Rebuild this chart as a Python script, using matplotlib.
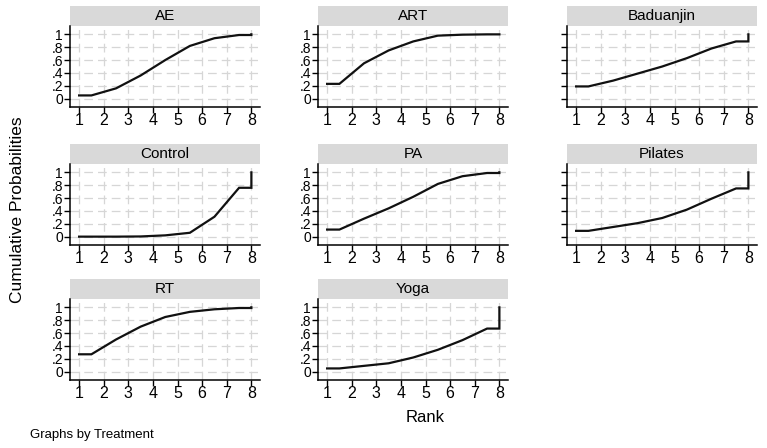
import numpy as np
import matplotlib
matplotlib.use("Agg")
import matplotlib.pyplot as plt
from matplotlib.patches import Rectangle

plt.rcParams['font.family'] = ['Liberation Sans', 'DejaVu Sans']

# cumulative ranking probabilities, rank 1..8
treatments = ["AE", "ART", "Baduanjin", "Control", "PA", "Pilates", "RT", "Yoga"]
ranks = [1, 2, 3, 4, 5, 6, 7, 8]
ae = [0.05, 0.16, 0.36, 0.60, 0.82, 0.94, 0.99, 1.00]
art = [0.23, 0.55, 0.75, 0.89, 0.98, 0.995, 1.00, 1.00]
baduanjin = [0.19, 0.28, 0.39, 0.50, 0.63, 0.78, 0.89, 1.00]
control = [0.0, 0.0, 0.003, 0.02, 0.06, 0.31, 0.76, 1.00]
pa = [0.11, 0.28, 0.44, 0.62, 0.82, 0.94, 0.99, 1.00]
pilates = [0.09, 0.15, 0.21, 0.29, 0.42, 0.59, 0.75, 1.00]
rt = [0.27, 0.50, 0.70, 0.85, 0.93, 0.97, 0.99, 1.00]
yoga = [0.05, 0.09, 0.13, 0.22, 0.34, 0.49, 0.67, 1.00]
series = [ae, art, baduanjin, control, pa, pilates, rt, yoga]

yticks = [0, 0.2, 0.4, 0.6, 0.8, 1]
ylabels = ["0", ".2", ".4", ".6", ".8", "1"]

W, H = 767, 448
fig = plt.figure(figsize=(W / 100, H / 100), dpi=100)

col_left = [70, 318, 567]
row_top = [26, 164, 299]
ax_w, ax_h = 190, 81
strip_h = 20

for i, (name, p) in enumerate(zip(treatments, series)):
    r, c = divmod(i, 3)
    left = col_left[c] / W
    bottom = 1 - (row_top[r] + ax_h) / H
    ax = fig.add_axes([left, bottom, ax_w / W, ax_h / H])

    # Stata-style cumulative curve: flat to 1.5, segments through midpoints, jump at 8
    xs = [ranks[0], ranks[0] + 0.5] + [k + 0.5 for k in ranks[1:-1]] + [ranks[-1], ranks[-1]]
    ys = [p[0]] + list(p[:-1]) + [p[-2], p[-1]]
    ax.plot(xs, ys, color="#111111", lw=1.6, solid_joinstyle="miter")

    ax.set_xlim(0.63, 8.35)
    ax.set_ylim(-0.13, 1.13)
    ax.set_xticks(ranks)
    ax.set_yticks(yticks)
    ax.set_xticklabels([str(k) for k in ranks], fontsize=11.5)
    if c < 2:
        ax.set_yticklabels(ylabels, fontsize=10)
    else:
        ax.set_yticklabels([])
    ax.tick_params(axis="x", length=4, width=1, pad=0.5)
    ax.tick_params(axis="y", length=4, width=1, pad=1)
    ax.grid(True, color="#d6d6d6", ls=(0, (7, 4)), lw=0.9)
    ax.set_axisbelow(True)
    for s in ["top", "right"]:
        ax.spines[s].set_visible(False)
    for s in ["left", "bottom"]:
        ax.spines[s].set_linewidth(1.1)

    # title strip
    ax.add_patch(Rectangle((0, 1), 1, strip_h / ax_h, transform=ax.transAxes,
                           facecolor="#d9d9d9", edgecolor="none", clip_on=False))
    ax.text(0.5, 1 + strip_h / ax_h / 2, name, transform=ax.transAxes,
            ha="center", va="center", fontsize=11)

fig.text(18 / W, 1 - 210 / H, "Cumulative Probabilities", rotation=90,
         ha="center", va="center", fontsize=12.5)
fig.text(425 / W, 1 - 417 / H, "Rank", ha="center", va="center", fontsize=12)
fig.text(30 / W, 1 - 435 / H, "Graphs by Treatment", ha="left", va="center", fontsize=9.5)

fig.savefig("out.png", dpi=100)
